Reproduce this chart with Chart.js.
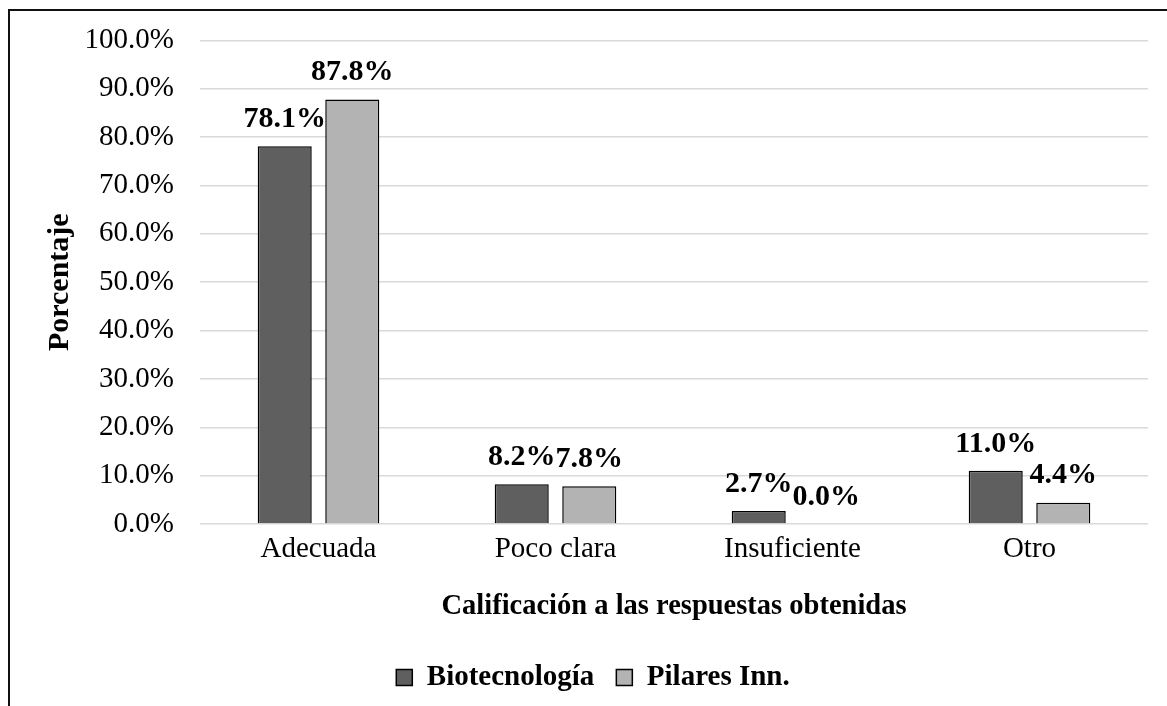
<!DOCTYPE html>
<html>
<head>
<meta charset="utf-8">
<script src="https://cdn.jsdelivr.net/npm/chart.js@4"></script>
<style>
  html, body { margin: 0; padding: 0; background: #fff; overflow: hidden; }
  #wrap { position: relative; width: 1167px; height: 706px; }
  #frame {
    position: absolute; left: 8px; top: 9px; width: 1200px; height: 720px;
    border-left: 2px solid #111; border-top: 2px solid #111; pointer-events: none;
  }
</style>
</head>
<body>
<div id="wrap">
  <canvas id="myChart" width="1167" height="706"></canvas>
  <div id="frame"></div>
</div>
<script>
const categories = ['Adecuada', 'Poco clara', 'Insuficiente', 'Otro'];
const biotecnologia = [78.1, 8.2, 2.7, 11.0];
const pilares = [87.8, 7.8, 0.0, 4.4];
const yTicks = [0, 10, 20, 30, 40, 50, 60, 70, 80, 90, 100];

const serif = "'Liberation Serif', 'Times New Roman', serif";

// value labels above each bar
const barLabels = {
  id: 'barLabels',
  afterDatasetsDraw(chart) {
    const ctx = chart.ctx;
    ctx.save();
    ctx.font = 'bold 30px ' + serif;
    ctx.fillStyle = '#000';
    ctx.textAlign = 'center';
    ctx.textBaseline = 'middle';
    chart.data.datasets.forEach((ds, i) => {
      chart.getDatasetMeta(i).data.forEach((bar, j) => {
        ctx.fillText(ds.data[j].toFixed(1) + '%', bar.x, bar.y - 27);
      });
    });
    ctx.restore();
  }
};

const ctx = document.getElementById('myChart').getContext('2d');
const chart = new Chart(ctx, {
  type: 'bar',
  data: {
    labels: categories,
    datasets: [
      {
        label: 'Biotecnología',
        data: biotecnologia,
        backgroundColor: '#5f5f5f',
        borderColor: '#000',
        borderWidth: 1.5,
      },
      {
        label: 'Pilares Inn.',
        data: pilares,
        backgroundColor: '#b3b3b3',
        borderColor: '#000',
        borderWidth: 1.5,
      }
    ]
  },
  options: {
    responsive: false,
    animation: false,
    categoryPercentage: 0.57,
    barPercentage: 0.8,
    layout: { padding: { left: 38, right: 19, top: 10, bottom: 4 } },
    plugins: {
      legend: {
        position: 'bottom',
        labels: {
          font: { family: serif, size: 29, weight: 'bold' },
          color: '#000',
          boxWidth: 16,
          boxHeight: 16,
          padding: 22,
        }
      },
      tooltip: { enabled: false },
    },
    scales: {
      x: {
        grid: { display: false, drawTicks: false },
        border: { display: false },
        ticks: { font: { family: serif, size: 29 }, color: '#000', padding: 8 },
        title: {
          display: true,
          text: 'Calificación a las respuestas obtenidas',
          font: { family: serif, size: 28.5, weight: 'bold' },
          color: '#000',
          padding: { top: 15, bottom: 17 },
        }
      },
      y: {
        min: 0,
        max: 100,
        afterBuildTicks: s => { s.ticks = yTicks.map(v => ({ value: v })); },
        afterFit: s => { s.width = 162; },
        grid: { color: '#d9d9d9', lineWidth: 1.5, drawTicks: true, tickLength: 3, tickColor: 'rgba(0,0,0,0)' },
        border: { display: false },
        ticks: {
          font: { family: serif, size: 29 },
          color: '#000',
          padding: 23,
          callback: v => v.toFixed(1) + '%',
        },
        title: {
          display: true,
          text: 'Porcentaje',
          font: { family: serif, size: 30, weight: 'bold' },
          color: '#000',
          padding: { top: 4, bottom: 0 },
        }
      }
    }
  },
  plugins: [barLabels]
});
</script>
</body>
</html>
